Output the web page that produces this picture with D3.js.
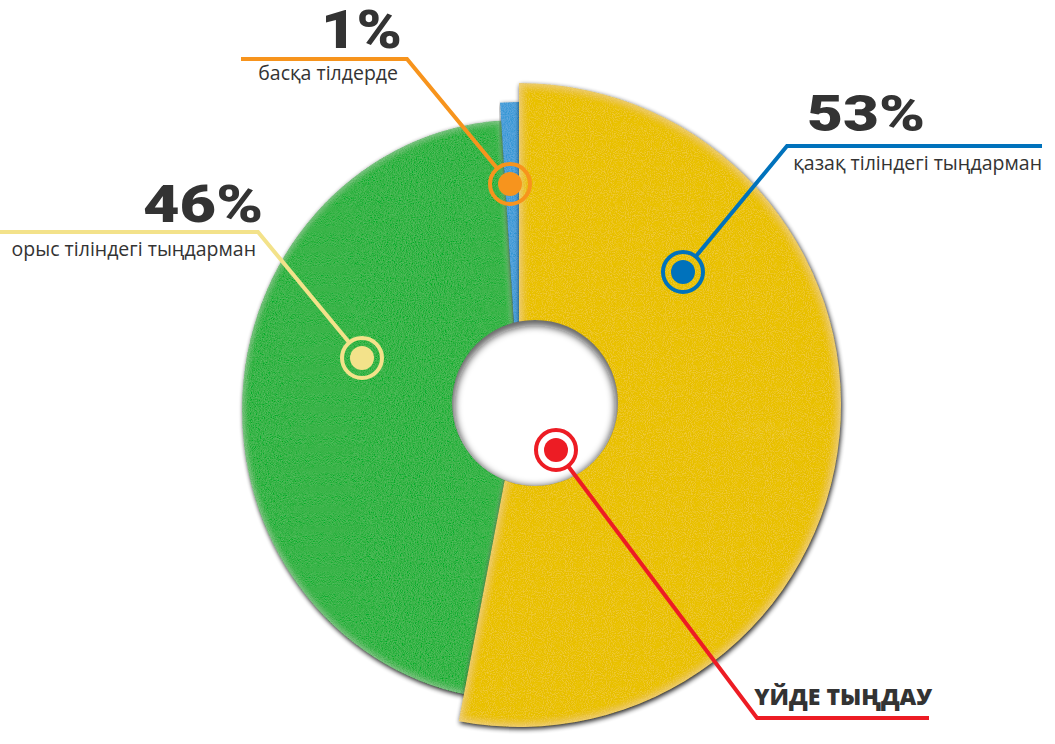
<!DOCTYPE html>
<html>
<head>
<meta charset="utf-8">
<script src="https://cdn.jsdelivr.net/npm/d3@7"></script>
<style>
  html, body { margin: 0; padding: 0; background: #fff; }
  svg { display: block; }
</style>
</head>
<body>
<svg id="chart" width="1055" height="744"></svg>
<script>
// ---- data ----
const categories = ["қазақ тіліндегі тыңдарман", "орыс тіліндегі тыңдарман", "басқа тілдерде"];
const values = [53, 46, 1];
const valueLabels = ["53%", "46%", "1%"];
const centerLabel = "ҮЙДЕ ТЫҢДАУ";

// ---- styles ----
const sliceColors = ["#EAC200", "#3AB449", "#4C9FD9"];
const markerColors = ["#0072BC", "#F3E28A", "#F7941D"];
const centerColor = "#ED1C24";
const sliceGeom = [
  { cx: 519, cy: 405, r: 322, sx: 1, glow: 0.28 },
  { cx: 519, cy: 410, r: 290, sx: 0.955, glow: 0.32 },
  { cx: 519, cy: 405, r: 303, sx: 1, glow: 0 }
];
const drawOrder = [1, 2, 0];
const hole = { cx: 535, cy: 403, r: 83 };

const svg = d3.select("#chart");
const defs = svg.append("defs");

function makeSliceFilter(id, glowOpacity) {
  const f = defs.append("filter").attr("id", id)
    .attr("x", "-10%").attr("y", "-10%").attr("width", "120%").attr("height", "120%");
  f.append("feTurbulence").attr("type", "fractalNoise").attr("baseFrequency", 0.95)
    .attr("numOctaves", 2).attr("seed", 4).attr("result", "noise");
  f.append("feColorMatrix").attr("in", "noise").attr("type", "matrix")
    .attr("values", "1 0 0 0 0  1 0 0 0 0  1 0 0 0 0  0 0 0 0 1").attr("result", "gray");
  f.append("feComposite").attr("in", "SourceGraphic").attr("in2", "gray").attr("operator", "arithmetic")
    .attr("k1", 0).attr("k2", 1).attr("k3", 0.16).attr("k4", -0.08).attr("result", "textured");
  f.append("feComposite").attr("in", "textured").attr("in2", "SourceAlpha").attr("operator", "in").attr("result", "tex");
  f.append("feGaussianBlur").attr("in", "SourceAlpha").attr("stdDeviation", 4).attr("result", "ab");
  f.append("feComposite").attr("in", "SourceAlpha").attr("in2", "ab").attr("operator", "arithmetic")
    .attr("k2", 1).attr("k3", -1).attr("result", "edge");
  f.append("feFlood").attr("flood-color", "#ffffff").attr("flood-opacity", glowOpacity).attr("result", "white");
  f.append("feComposite").attr("in", "white").attr("in2", "edge").attr("operator", "in").attr("result", "glow");
  f.append("feGaussianBlur").attr("in", "SourceAlpha").attr("stdDeviation", 2.5).attr("result", "sb");
  f.append("feOffset").attr("in", "sb").attr("dx", 1).attr("dy", 2).attr("result", "so");
  const ct = f.append("feComponentTransfer").attr("in", "so").attr("result", "shadow");
  ct.append("feFuncA").attr("type", "linear").attr("slope", 0.9);
  const fm = f.append("feMerge");
  fm.append("feMergeNode").attr("in", "shadow");
  fm.append("feMergeNode").attr("in", "tex");
  fm.append("feMergeNode").attr("in", "glow");
}
sliceGeom.forEach((g, i) => makeSliceFilter("slice" + i, g.glow));

// blur for the hole's inner shadow
defs.append("filter").attr("id", "blur")
  .attr("x", "-30%").attr("y", "-30%").attr("width", "160%").attr("height", "160%")
  .append("feGaussianBlur").attr("stdDeviation", 3.5);
defs.append("clipPath").attr("id", "holeClip")
  .append("circle").attr("cx", hole.cx).attr("cy", hole.cy).attr("r", hole.r);

// ---- pie ----
const pie = d3.pie().sort(null).value(d => d)(values);
const arcPaths = pie.map((p, i) => d3.arc().innerRadius(0).outerRadius(sliceGeom[i].r)(p));

const slicesG = svg.append("g");
drawOrder.forEach(i => {
  const g = sliceGeom[i];
  slicesG.append("g")
    .attr("transform", `translate(${g.cx},${g.cy}) scale(${g.sx},1)`)
    .append("path")
    .attr("d", arcPaths[i])
    .attr("fill", sliceColors[i])
    .attr("filter", `url(#slice${i})`);
});

// faint label inside yellow slice
svg.append("text")
  .attr("x", 790).attr("y", 440)
  .attr("text-anchor", "end")
  .attr("font-family", "Open Sans, sans-serif").attr("font-weight", 800)
  .attr("font-size", 26).attr("fill", "#fff").attr("opacity", 0.04)
  .text(valueLabels[0]);

// hole with inner shadow
const holeG = svg.append("g").attr("clip-path", "url(#holeClip)");
holeG.append("circle")
  .attr("cx", hole.cx).attr("cy", hole.cy).attr("r", hole.r).attr("fill", "#fff");
holeG.append("circle")
  .attr("cx", hole.cx).attr("cy", hole.cy + 3).attr("r", hole.r + 4)
  .attr("fill", "none").attr("stroke", "#111").attr("stroke-opacity", 0.65)
  .attr("stroke-width", 14).attr("filter", "url(#blur)");

// ---- callouts ----
const callouts = [
  { i: 0, ring: [683, 272], elbow: [787, 146], end: [1042, 146],
    num: [807, 131, "start", 50, 118], desc: [1042, 170, "end"] },
  { i: 1, ring: [362, 358], elbow: [258, 232], end: [0, 232],
    num: [263, 222, "end", 51, 120], desc: [256, 256, "end"] },
  { i: 2, ring: [510, 184], elbow: [407, 59], end: [241, 59],
    num: [402, 48, "end", 53, 81], desc: [398, 80, "end"] }
];
const ringR = 20, dotR = 12, lw = 4;

function drawLeader(ring, elbow, end, color) {
  const dx = elbow[0] - ring[0], dy = elbow[1] - ring[1];
  const len = Math.hypot(dx, dy);
  const sx = ring[0] + dx / len * (ringR + lw / 2 - 1);
  const sy = ring[1] + dy / len * (ringR + lw / 2 - 1);
  svg.append("path")
    .attr("d", d3.line()([[sx, sy], elbow, end]))
    .attr("fill", "none").attr("stroke", color).attr("stroke-width", lw)
    .attr("stroke-linejoin", "miter");
  svg.append("circle").attr("cx", ring[0]).attr("cy", ring[1]).attr("r", ringR)
    .attr("fill", "none").attr("stroke", color).attr("stroke-width", lw);
  svg.append("circle").attr("cx", ring[0]).attr("cy", ring[1]).attr("r", dotR)
    .attr("fill", color);
}

callouts.forEach(c => {
  const col = markerColors[c.i];
  drawLeader(c.ring, c.elbow, c.end, col);
  svg.append("text")
    .attr("x", c.num[0]).attr("y", c.num[1]).attr("text-anchor", c.num[2])
    .attr("font-family", "Roboto, 'Open Sans', sans-serif").attr("font-weight", 900)
    .attr("font-size", c.num[3]).attr("fill", "#333")
    .attr("textLength", c.num[4]).attr("lengthAdjust", "spacingAndGlyphs")
    .text(valueLabels[c.i]);
  svg.append("text")
    .attr("x", c.desc[0]).attr("y", c.desc[1]).attr("text-anchor", c.desc[2])
    .attr("font-family", "Open Sans, sans-serif").attr("font-weight", 400)
    .attr("font-size", 19.5).attr("fill", "#333")
    .text(categories[c.i]);
});

// center callout
drawLeader([556, 450], [757, 718], [929, 718], centerColor);
svg.append("text")
  .attr("x", 932).attr("y", 705).attr("text-anchor", "end")
  .attr("font-family", "Open Sans, sans-serif").attr("font-weight", 800)
  .attr("font-size", 23).attr("fill", "#333")
  .text(centerLabel);
</script>
</body>
</html>
